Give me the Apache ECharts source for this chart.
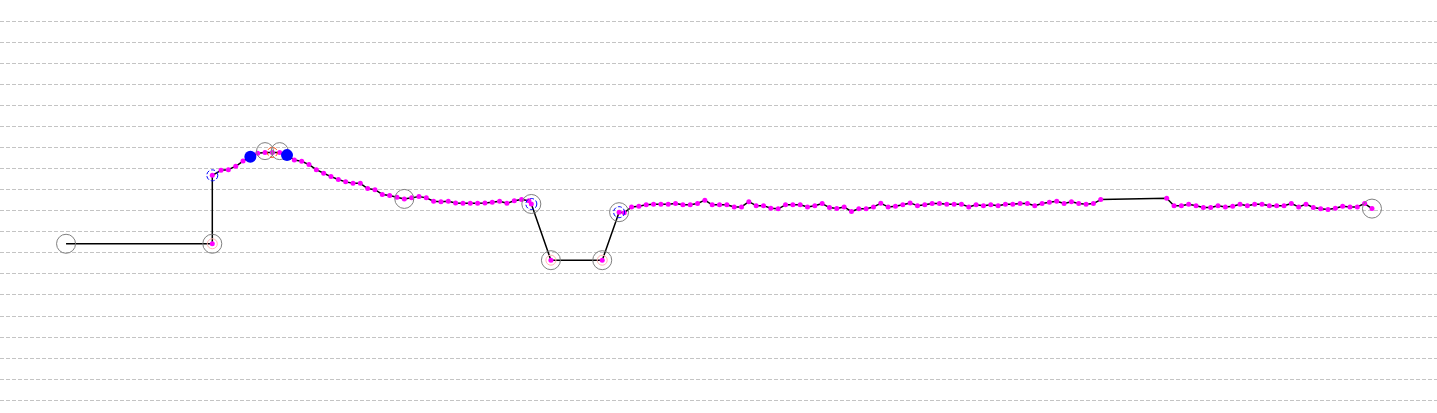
<!DOCTYPE html>
<html>
<head>
<meta charset="utf-8">
<script src="https://cdn.jsdelivr.net/npm/echarts@6/dist/echarts.min.js"></script>
<style>
html,body{margin:0;padding:0;background:#fff;}
#chart{width:1437px;height:413px;}
</style>
</head>
<body>
<div id="chart"></div>
<script>
// x: sample index, y: value
const headT = [-21.14, -1.19, -1.19];
const headV = [74.2, 74.2, 106.7];
const segAStart = 0;
const segAV = [109.1,109.4,111.0,113.5,115.5,117.2,117.6,117.6,117.6,116.3,114.0,113.4,111.8,109.4,107.7,106.1,104.7,103.6,102.9,102.9,100.4,99.9,97.6,97.1,96.3,95.5,96.0,96.6,96.0,94.4,94.1,94.4,93.6,93.4,93.4,93.4,93.6,93.9,94.4,93.4,94.6,95.2,94.6];
const midT = [42.33, 45, 52, 54.3];
const midV = [93.1, 66.4, 66.4, 89.2];
const segBStart = 55;
const segBV = [88.9,91.7,92.0,92.7,93.0,93.0,93.0,93.3,92.7,92.7,93.3,94.9,92.7,92.7,92.7,91.7,91.7,94.2,92.3,92.3,91.1,90.8,92.7,92.7,92.7,91.7,92.3,93.3,91.4,90.9,91.7,89.5,90.8,90.8,91.7,93.4,91.7,92.0,92.7,93.6,92.3,92.7,93.3,93.3,93.0,93.0,93.0,91.7,92.7,92.3,92.7,92.3,93.0,93.0,93.3,93.3,92.3,93.3,93.9,94.4,93.3,94.2,93.3,93.0,93.3,95.2];
const segCStart = 129;
const segCV = [95.8,92.3,92.3,93.0,92.3,91.4,91.4,92.3,91.7,92.0,93.0,92.3,93.0,93.0,92.3,92.3,92.3,93.3,91.7,93.0,91.4,90.8,90.5,91.1,92.0,91.7,91.7,93.3,90.9];

// marker points
const grayBigT = [-21.14, -1.19, 25, 42.33, 45, 52, 54.3, 157];
const grayBigV = [74.2, 74.2, 95.5, 93.1, 66.4, 66.4, 89.2, 90.9];
const graySmallT = [6, 8];
const graySmallV = [118.2, 118.2];
const blueRingT = [-1.19, 42.33, 54.3];
const blueRingV = [106.7, 93.1, 89.2];
const blueDotT = [4, 9];
const blueDotV = [115.5, 116.3];
const orangeRingT = [7];
const orangeRingV = [117.6];
const pinkRingT = [-1.19, 45, 52];
const pinkRingV = [74.2, 66.4, 66.4];

function pairs(ts, vs){ return ts.map((t,i)=>[t, vs[i]]); }
function seg(start, vs){ return vs.map((v,i)=>[start+i, v]); }

const path = [].concat(
  pairs(headT, headV),
  seg(segAStart, segAV),
  pairs(midT, midV),
  seg(segBStart, segBV),
  seg(segCStart, segCV)
);
const dots = path.slice(1);

const chart = echarts.init(document.getElementById('chart'), null, {renderer:'canvas'});
function ring(name, data, size, color, type, z){
  return {name, type:'scatter', data, symbol:'circle', symbolSize:size, z,
    itemStyle:{color:'rgba(0,0,0,0)', borderColor:color, borderWidth:1, borderType:type, opacity:1},
    emphasis:{disabled:true}, silent:true};
}
chart.setOption({
  animation:false,
  backgroundColor:'#ffffff',
  grid:{left:0, right:0, top:21, bottom:13, containLabel:false},
  xAxis:{type:'value', min:-30.15, max:165.87, show:true,
    axisLine:{show:false}, axisTick:{show:false}, axisLabel:{show:false}, splitLine:{show:false}},
  yAxis:{type:'value', min:0, max:180, interval:10,
    axisLine:{show:false}, axisTick:{show:false}, axisLabel:{show:false},
    splitLine:{show:true, lineStyle:{color:'#c4c4c4', type:'dashed', width:1}}},
  series:[
    {type:'line', data:path, showSymbol:false, symbol:'none', z:2,
      lineStyle:{color:'#000', width:1.5}, silent:true},
    ring('pink', pairs(pinkRingT, pinkRingV), 10, '#ffb4b4', 'solid', 3),
    {type:'scatter', data:dots, symbol:'circle', symbolSize:5, z:4,
      itemStyle:{color:'#ff00ff', opacity:1}, silent:true},
    ring('grayBig', pairs(grayBigT, grayBigV), 19, '#808080', 'solid', 5),
    ring('graySmall', pairs(graySmallT, graySmallV), 17, '#808080', 'solid', 5),
    ring('blueRing', pairs(blueRingT, blueRingV), 11, '#0000ff', 'dashed', 6),
    ring('orangeRing', pairs(orangeRingT, orangeRingV), 10, '#ff4000', 'dashed', 6),
    {type:'scatter', data:pairs(blueDotT, blueDotV), symbol:'circle', symbolSize:12, z:7,
      itemStyle:{color:'#0000ff', opacity:1}, silent:true}
  ]
});
</script>
</body>
</html>
